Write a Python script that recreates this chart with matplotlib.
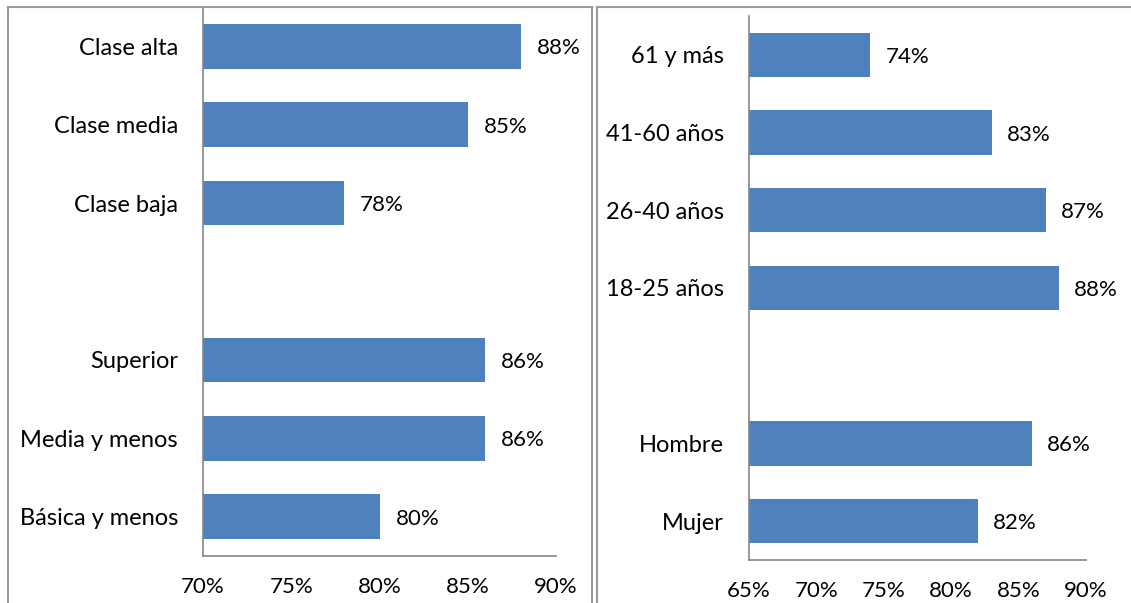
import numpy as np
import matplotlib.pyplot as plt
from matplotlib.lines import Line2D

plt.rcParams['font.family'] = ['Lato', 'DejaVu Sans']

# left panel (top to bottom, '' = empty slot)
left_labels = ['Clase alta', 'Clase media', 'Clase baja', '', 'Superior', 'Media y menos', 'Básica y menos']
left_values = [88, 85, 78, None, 86, 86, 80]
left_ticks = [70, 75, 80, 85, 90]

# right panel
right_labels = ['61 y más', '41-60 años', '26-40 años', '18-25 años', '', 'Hombre', 'Mujer']
right_values = [74, 83, 87, 88, None, 86, 82]
right_ticks = [65, 70, 75, 80, 85, 90]

bar_color = '#4F81BD'
axis_color = '#868686'
fs = 16
fs_cat = 17


def draw_panel(ax, labels, values, ticks):
    n = len(labels)
    pos = np.arange(n)[::-1]
    lo = ticks[0]
    for p, v in zip(pos, values):
        if v is None:
            continue
        ax.barh(p, v - lo, left=lo, height=0.57, color=bar_color)
        ax.text(v + (ticks[-1] - lo) * 0.045, p, '%d%%' % v, va='center_baseline', ha='left', fontsize=fs)
    ax.set_ylim(-0.5, n - 0.5)
    ax.set_xlim(lo, ticks[-1])
    ax.set_yticks(pos)
    ax.set_yticklabels(labels, fontsize=fs_cat)
    ax.set_xticks(ticks)
    ax.set_xticklabels(['%d%%' % t for t in ticks], fontsize=fs)
    ax.tick_params(axis='y', length=0, pad=18)
    ax.tick_params(axis='x', length=0, pad=15)
    for s in ['top', 'right']:
        ax.spines[s].set_visible(False)
    for s in ['left', 'bottom']:
        ax.spines[s].set_color(axis_color)
        ax.spines[s].set_linewidth(1.2)


fig = plt.figure(figsize=(11.31, 6.03), dpi=100)
ax1 = fig.add_axes([0.1795, 0.0779, 0.3121, 0.9104])
ax2 = fig.add_axes([0.6622, 0.0713, 0.2980, 0.9022])
ax1.patch.set_alpha(0)
ax2.patch.set_alpha(0)
draw_panel(ax1, left_labels, left_values, left_ticks)
draw_panel(ax2, right_labels, right_values, right_ticks)

# chart frames
W, H = 1131, 603
frame = dict(color='#9a9a9a', linewidth=1.5, transform=fig.transFigure)
fig.add_artist(Line2D([8 / W, 8 / W], [0, 1 - 7 / H], **frame))
fig.add_artist(Line2D([8 / W, 592 / W], [1 - 7 / H, 1 - 7 / H], **frame))
fig.add_artist(Line2D([592 / W, 592 / W], [0, 1 - 7 / H], **frame))
fig.add_artist(Line2D([597 / W, 597 / W], [0, 1 - 7 / H], **frame))
fig.add_artist(Line2D([597 / W, 1], [1 - 7 / H, 1 - 7 / H], **frame))

fig.savefig('out.png', dpi=100)
